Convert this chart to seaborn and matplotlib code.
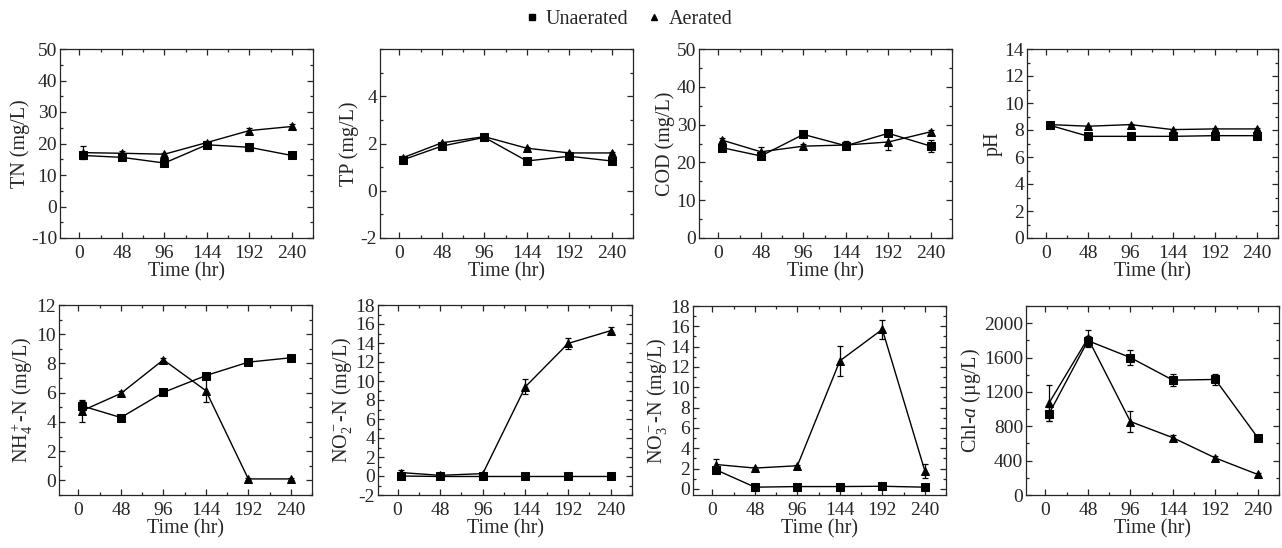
import numpy as np
import pandas as pd
import seaborn as sns
import matplotlib.pyplot as plt
from matplotlib.lines import Line2D
from matplotlib.ticker import MultipleLocator

# sampling times (hr)
time_hr = [4, 48, 96, 144, 192, 240]

# TN (mg/L)
tn_unaer = [16.2, 15.6, 13.8, 19.6, 18.8, 16.2]
tn_unaer_err = [0.8, 0.6, 0.5, 0.6, 1.2, 0.5]
tn_aer = [17.1, 16.9, 16.6, 20.3, 24.1, 25.4]
tn_aer_err = [2.0, 0.6, 0.5, 0.6, 0.8, 0.8]

# TP (mg/L)
tp_unaer = [1.31, 1.89, 2.26, 1.26, 1.46, 1.26]
tp_unaer_err = [0.05, 0.08, 0.08, 0.05, 0.05, 0.05]
tp_aer = [1.40, 2.03, 2.29, 1.80, 1.60, 1.60]
tp_aer_err = [0.05, 0.05, 0.05, 0.05, 0.05, 0.05]

# COD (mg/L)
cod_unaer = [23.9, 21.7, 27.4, 24.4, 27.7, 24.3]
cod_unaer_err = [0.5, 0.5, 0.5, 0.8, 0.6, 1.5]
cod_aer = [25.9, 22.8, 24.3, 24.6, 25.4, 28.1]
cod_aer_err = [0.5, 1.4, 0.5, 1.0, 2.2, 0.5]

# pH
ph_unaer = [8.35, 7.53, 7.53, 7.53, 7.58, 7.58]
ph_unaer_err = [0.1, 0.05, 0.05, 0.05, 0.05, 0.05]
ph_aer = [8.40, 8.28, 8.40, 8.03, 8.08, 8.08]
ph_aer_err = [0.1, 0.05, 0.05, 0.05, 0.05, 0.05]

# NH4+-N (mg/L)
nh4_unaer = [5.10, 4.30, 6.02, 7.17, 8.09, 8.39]
nh4_unaer_err = [0.35, 0.1, 0.1, 0.15, 0.1, 0.2]
nh4_aer = [4.76, 5.95, 8.25, 6.14, 0.10, 0.10]
nh4_aer_err = [0.75, 0.15, 0.1, 0.8, 0.05, 0.05]

# NO2--N (mg/L)
no2_unaer = [0.0, -0.05, -0.05, -0.05, -0.05, -0.05]
no2_unaer_err = [0.05, 0.05, 0.05, 0.05, 0.05, 0.05]
no2_aer = [0.36, 0.07, 0.25, 9.4, 13.95, 15.3]
no2_aer_err = [0.3, 0.1, 0.1, 0.8, 0.6, 0.4]

# NO3--N (mg/L)
no3_unaer = [1.88, 0.17, 0.23, 0.23, 0.26, 0.17]
no3_unaer_err = [0.1, 0.05, 0.05, 0.05, 0.05, 0.05]
no3_aer = [2.40, 2.05, 2.28, 12.6, 15.7, 1.80]
no3_aer_err = [0.5, 0.1, 0.1, 1.5, 0.9, 0.7]

# Chl-a (ug/L)
chl_unaer = [945, 1796, 1600, 1337, 1345, 667]
chl_unaer_err = [80, 60, 90, 70, 60, 20]
chl_aer = [1070, 1824, 855, 667, 431, 239]
chl_aer_err = [210, 100, 125, 30, 25, 20]

panels = [
    ("TN (mg/L)", tn_unaer, tn_unaer_err, tn_aer, tn_aer_err, (-10, 50), 10, 5, None),
    ("TP (mg/L)", tp_unaer, tp_unaer_err, tp_aer, tp_aer_err, (-2, 6), 2, 1, [-2, 0, 2, 4]),
    ("COD (mg/L)", cod_unaer, cod_unaer_err, cod_aer, cod_aer_err, (0, 50), 10, 5, None),
    ("pH", ph_unaer, ph_unaer_err, ph_aer, ph_aer_err, (0, 14), 2, 1, None),
    ("NH$_4^+$-N (mg/L)", nh4_unaer, nh4_unaer_err, nh4_aer, nh4_aer_err, (-1, 12), 2, 1, None),
    ("NO$_2^-$-N (mg/L)", no2_unaer, no2_unaer_err, no2_aer, no2_aer_err, (-2, 18), 2, 1, None),
    ("NO$_3^-$-N (mg/L)", no3_unaer, no3_unaer_err, no3_aer, no3_aer_err, (-0.6, 18), 2, 1, None),
    ("Chl-$a$ (µg/L)", chl_unaer, chl_unaer_err, chl_aer, chl_aer_err, (0, 2200), 400, 200, None),
]

# axes boxes in pixels: left, top, right, bottom
boxes = [
    (60, 49, 313, 238), (380, 49, 633, 238), (699, 49, 952, 238), (1027, 49, 1278, 238),
    (59, 305, 312, 495), (378, 305, 632, 495), (693, 306, 946, 495), (1026, 306, 1279, 495),
]

sns.set_style("ticks")
plt.rcParams['font.family'] = ['Liberation Serif', 'DejaVu Serif']
plt.rcParams['mathtext.fontset'] = 'custom'
plt.rcParams['mathtext.rm'] = 'Liberation Serif'
plt.rcParams['mathtext.it'] = 'Liberation Serif:italic'
plt.rcParams['axes.unicode_minus'] = False
plt.rcParams['axes.linewidth'] = 0.9

W, H = 1282, 548
fig = plt.figure(figsize=(W / 100, H / 100), dpi=100)

for (label, yu, eu, ya, ea, ylim, major, minor, yticks), (l, t, r, b) in zip(panels, boxes):
    ax = fig.add_axes([l / W, 1 - b / H, (r - l) / W, (b - t) / H])
    df = pd.DataFrame({
        "Time": time_hr * 2,
        "value": yu + ya,
        "Treatment": ["Unaerated"] * 6 + ["Aerated"] * 6,
    })
    ax.errorbar(time_hr, yu, yerr=eu, fmt='none', ecolor='black', elinewidth=0.9, capsize=2.5, capthick=0.9)
    ax.errorbar(time_hr, ya, yerr=ea, fmt='none', ecolor='black', elinewidth=0.9, capsize=2.5, capthick=0.9)
    sns.lineplot(data=df, x="Time", y="value", hue="Treatment", style="Treatment",
                 palette={"Unaerated": "black", "Aerated": "black"},
                 markers={"Unaerated": "s", "Aerated": "^"}, dashes=False,
                 markersize=5.5, markeredgecolor='black', linewidth=1.0,
                 legend=False, ax=ax)
    ax.set_xlim(-22, 264)
    ax.set_ylim(*ylim)
    ax.xaxis.set_major_locator(MultipleLocator(48))
    ax.xaxis.set_minor_locator(MultipleLocator(24))
    ax.yaxis.set_major_locator(MultipleLocator(major))
    ax.yaxis.set_minor_locator(MultipleLocator(minor))
    if yticks is not None:
        ax.set_yticks(yticks)
    ax.tick_params(which='both', direction='in', top=True, right=True, labelsize=14, width=0.9)
    ax.tick_params(which='major', length=4)
    ax.tick_params(axis='x', which='major', pad=5)
    ax.tick_params(axis='y', which='major', pad=2)
    ax.tick_params(which='minor', length=2)
    ax.set_xlabel("Time (hr)", fontsize=14.5, labelpad=0)
    ax.set_ylabel(label, fontsize=14.5, labelpad=1)
    for s in ax.spines.values():
        s.set_visible(True)

handles = [
    Line2D([], [], color='black', marker='s', linestyle='none', markersize=4),
    Line2D([], [], color='black', marker='^', linestyle='none', markersize=4.5),
]
fig.legend(handles, ["Unaerated", "Aerated"], loc='upper center', bbox_to_anchor=(0.489, 1.015),
           ncol=2, frameon=False, fontsize=14.5, handletextpad=0.2, columnspacing=0.8, handlelength=1)

fig.savefig("out.png", dpi=100)
